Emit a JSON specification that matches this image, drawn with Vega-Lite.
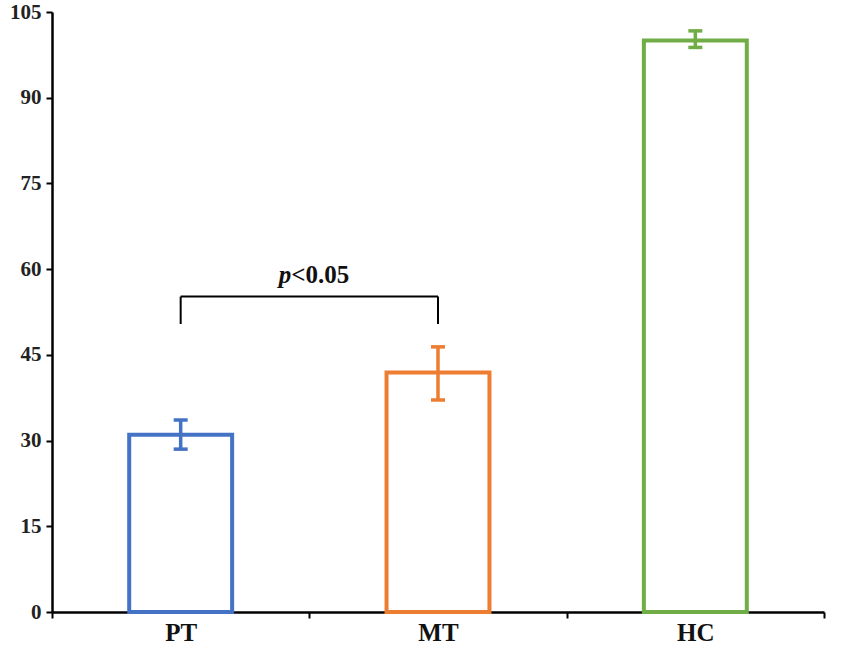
{
  "$schema": "https://vega.github.io/schema/vega-lite/v6.json",
  "width": 772,
  "height": 600,
  "autosize": {"type": "none"},
  "padding": {"left": 52, "top": 12, "right": 26, "bottom": 34},
  "background": "white",
  "datasets": {
    "groups": [
      {"group": "PT", "mean": 31.0, "lo": 28.5, "hi": 33.6},
      {"group": "MT", "mean": 41.9, "lo": 37.1, "hi": 46.4},
      {"group": "HC", "mean": 100.0, "lo": 98.8, "hi": 101.7}
    ],
    "bracket": [
      {"from": "PT", "to": "MT", "top": 55.2, "bottom": 50.4, "textY": 57.6}
    ]
  },
  "data": {"name": "groups"},
  "layer": [
    {
      "mark": {"type": "bar", "fill": "white", "strokeWidth": 4, "width": {"band": 0.4}},
      "encoding": {
        "x": {
          "field": "group", "type": "nominal", "title": null,
          "scale": {"domain": ["PT", "MT", "HC"], "paddingInner": 0, "paddingOuter": 0},
          "axis": {
            "labelAngle": 0, "tickBand": "extent", "domainColor": "black", "domainWidth": 2.5,
            "tickColor": "black", "tickWidth": 2, "tickSize": 6,
            "labelFont": "Liberation Serif", "labelFontWeight": "bold", "labelFontSize": 25,
            "labelColor": "#111", "labelPadding": 2
          }
        },
        "y": {
          "field": "mean", "type": "quantitative", "title": null,
          "scale": {"domain": [0, 105], "nice": false},
          "axis": {
            "values": [0, 15, 30, 45, 60, 75, 90, 105], "grid": false,
            "domainColor": "black", "domainWidth": 2.5, "tickColor": "black", "tickWidth": 2, "tickSize": 6,
            "labelFont": "Liberation Serif", "labelFontWeight": "bold", "labelFontSize": 21,
            "labelColor": "#222", "labelPadding": 5
          }
        },
        "stroke": {
          "field": "group", "type": "nominal", "legend": null,
          "scale": {"domain": ["PT", "MT", "HC"], "range": ["#4472C4", "#ED7D31", "#70AD47"]}
        }
      }
    },
    {
      "mark": {"type": "rule", "strokeWidth": 3.5},
      "encoding": {
        "x": {"field": "group", "type": "nominal", "title": null},
        "y": {"field": "lo", "type": "quantitative", "title": null},
        "y2": {"field": "hi"},
        "color": {
          "field": "group", "type": "nominal", "legend": null,
          "scale": {"domain": ["PT", "MT", "HC"], "range": ["#4472C4", "#ED7D31", "#70AD47"]}
        }
      }
    },
    {
      "mark": {"type": "tick", "size": 14, "thickness": 3.5, "opacity": 1},
      "encoding": {
        "x": {"field": "group", "type": "nominal", "title": null},
        "y": {"field": "lo", "type": "quantitative", "title": null},
        "color": {"field": "group", "type": "nominal", "legend": null}
      }
    },
    {
      "mark": {"type": "tick", "size": 14, "thickness": 3.5, "opacity": 1},
      "encoding": {
        "x": {"field": "group", "type": "nominal", "title": null},
        "y": {"field": "hi", "type": "quantitative", "title": null},
        "color": {"field": "group", "type": "nominal", "legend": null}
      }
    },
    {
      "data": {"name": "bracket"},
      "mark": {"type": "rule", "strokeWidth": 2, "color": "black"},
      "encoding": {
        "x": {"field": "from", "type": "nominal", "title": null},
        "x2": {"field": "to"},
        "y": {"field": "top", "type": "quantitative", "title": null}
      }
    },
    {
      "data": {"name": "bracket"},
      "mark": {"type": "rule", "strokeWidth": 2, "color": "black"},
      "encoding": {
        "x": {"field": "from", "type": "nominal", "title": null},
        "y": {"field": "bottom", "type": "quantitative", "title": null},
        "y2": {"field": "top"}
      }
    },
    {
      "data": {"name": "bracket"},
      "mark": {"type": "rule", "strokeWidth": 2, "color": "black"},
      "encoding": {
        "x": {"field": "to", "type": "nominal", "title": null},
        "y": {"field": "bottom", "type": "quantitative", "title": null},
        "y2": {"field": "top"}
      }
    },
    {
      "data": {"name": "bracket"},
      "mark": {
        "type": "text", "text": "p", "align": "right", "baseline": "alphabetic", "dx": -18,
        "font": "Liberation Serif", "fontSize": 25, "fontWeight": "bold", "fontStyle": "italic", "color": "#111"
      },
      "encoding": {
        "x": {"field": "from", "type": "nominal", "bandPosition": 1, "title": null},
        "y": {"field": "textY", "type": "quantitative", "title": null}
      }
    },
    {
      "data": {"name": "bracket"},
      "mark": {
        "type": "text", "text": "<0.05", "align": "left", "baseline": "alphabetic", "dx": -18,
        "font": "Liberation Serif", "fontSize": 25, "fontWeight": "bold", "color": "#111"
      },
      "encoding": {
        "x": {"field": "from", "type": "nominal", "bandPosition": 1, "title": null},
        "y": {"field": "textY", "type": "quantitative", "title": null}
      }
    }
  ],
  "config": {"view": {"stroke": null}}
}
